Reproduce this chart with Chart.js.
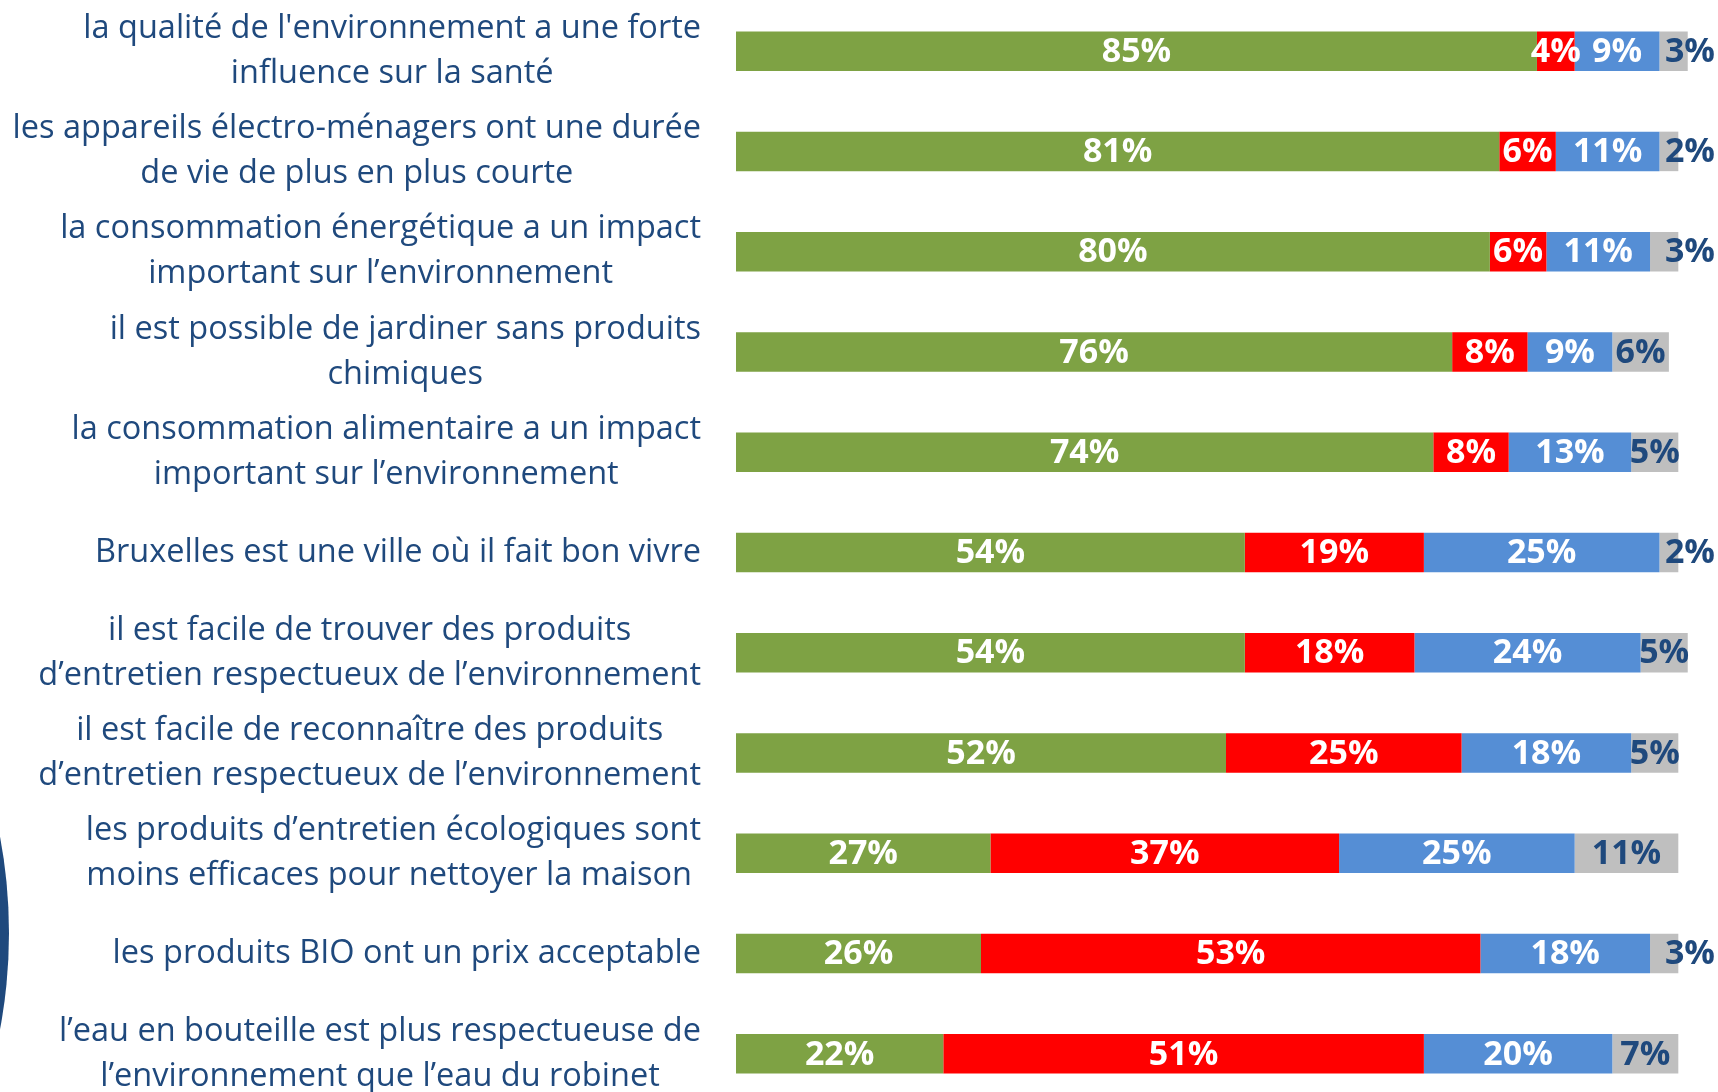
<!DOCTYPE html>
<html lang="fr">
<head>
<meta charset="utf-8">
<title>Perception de l'environnement</title>
<script src="https://cdn.jsdelivr.net/npm/chart.js@4.4.1/dist/chart.umd.min.js"></script>
<style>
  html, body { margin: 0; padding: 0; background: #fff; overflow: hidden; }
  #wrap { position: relative; width: 1718px; height: 1092px; overflow: hidden; }
  /* bord du cercle bleu à gauche */
  #arc { position: absolute; left: -1035px; top: 411px; width: 1044px; height: 1044px; border-radius: 50%; background: #1F497D; }
  #chart { position: absolute; left: 0; top: 0; }
</style>
</head>
<body>
<div id="wrap">
  <div id="arc"></div>
  <canvas id="chart" width="1718" height="1104"></canvas>
</div>
<script>
// --- Data ---
const statements = [
  ["la qualité de l'environnement a une forte", "influence sur la santé"],
  ["les appareils électro-ménagers ont une durée", "de vie de plus en plus courte"],
  ["la consommation énergétique a un impact", "important sur l’environnement"],
  ["il est possible de jardiner sans produits", "chimiques"],
  ["la consommation alimentaire a un impact", "important sur l’environnement"],
  ["Bruxelles est une ville où il fait bon vivre"],
  ["il est facile de trouver des produits", "d’entretien respectueux de l’environnement"],
  ["il est facile de reconnaître des produits", "d’entretien respectueux de l’environnement"],
  ["les produits d’entretien écologiques sont", "moins efficaces pour nettoyer la maison "],
  ["les produits BIO ont un prix acceptable"],
  ["l’eau en bouteille est plus respectueuse de", "l’environnement que l’eau du robinet"],
];
const accord = [85, 81, 80, 76, 74, 54, 54, 52, 27, 26, 22];
const desaccord = [4, 6, 6, 8, 8, 19, 18, 25, 37, 53, 51];
const plutot = [9, 11, 11, 9, 13, 25, 24, 18, 25, 18, 20];
const sansAvis = [3, 2, 3, 6, 5, 2, 5, 5, 11, 3, 7];

const seriesNames = ["D'accord", "Pas d'accord", "Plutôt", "Sans avis"];
const colors = ["#7EA244", "#FF0000", "#558ED5", "#BFBFBF"];
const textDark = "#1F497D";

// --- Plugins ---
// statement labels: block right-aligned against the bars, lines centered in the block
const statementLabels = {
  id: "statementLabels",
  afterDraw(chart) {
    const { ctx, chartArea, scales: { y } } = chart;
    const right = chartArea.left - 35;
    const lineH = 45;
    ctx.save();
    ctx.font = "32.5px 'Open Sans'";
    ctx.fillStyle = textDark;
    ctx.textAlign = "center";
    ctx.textBaseline = "middle";
    statements.forEach((lines, i) => {
      const yc = y.getPixelForValue(i);
      const widest = Math.max(...lines.map((l) => ctx.measureText(l).width));
      const cx = right - widest / 2;
      lines.forEach((line, j) => {
        ctx.fillText(line, cx, yc + (j - (lines.length - 1) / 2) * lineH);
      });
    });
    ctx.restore();
  },
};

// percentage labels inside the segments
const valueLabels = {
  id: "valueLabels",
  afterDatasetsDraw(chart) {
    const { ctx, width } = chart;
    const last = chart.data.datasets.length - 1;
    ctx.save();
    ctx.font = "bold 34px 'Open Sans'";
    ctx.textAlign = "center";
    ctx.textBaseline = "middle";
    chart.data.datasets.forEach((ds, di) => {
      ctx.fillStyle = di === last ? textDark : "#FFFFFF";
      chart.getDatasetMeta(di).data.forEach((bar, i) => {
        const text = ds.data[i] + "%";
        const w = ctx.measureText(text).width;
        const start = Math.min(bar.base, bar.x);
        const end = Math.max(bar.base, bar.x);
        let x = (start + end) / 2;
        // very thin last segment: label pushed out to the right (kept on canvas)
        if (di === last && w > (end - start) * 1.4) {
          x = Math.min(end - 10 + w / 2, width - 3 - w / 2);
        }
        ctx.fillText(text, x, bar.y + 1);
      });
    });
    ctx.restore();
  },
};

// --- Chart ---
const ctx = document.getElementById("chart").getContext("2d");
new Chart(ctx, {
  type: "bar",
  data: {
    labels: statements.map((s) => s.join(" ")),
    datasets: [accord, desaccord, plutot, sansAvis].map((values, k) => ({
      label: seriesNames[k],
      data: values,
      backgroundColor: colors[k],
      borderWidth: 0,
      barPercentage: 0.394,
      categoryPercentage: 1,
    })),
  },
  options: {
    indexAxis: "y",
    responsive: false,
    devicePixelRatio: 1,
    animation: false,
    layout: { padding: { left: 736, right: 2, top: 1, bottom: 0 } },
    plugins: { legend: { display: false }, tooltip: { enabled: false } },
    scales: {
      x: { stacked: true, min: 0, max: 104, display: false },
      y: { stacked: true, display: false, grid: { display: false } },
    },
  },
  plugins: [statementLabels, valueLabels],
});
</script>
</body>
</html>
